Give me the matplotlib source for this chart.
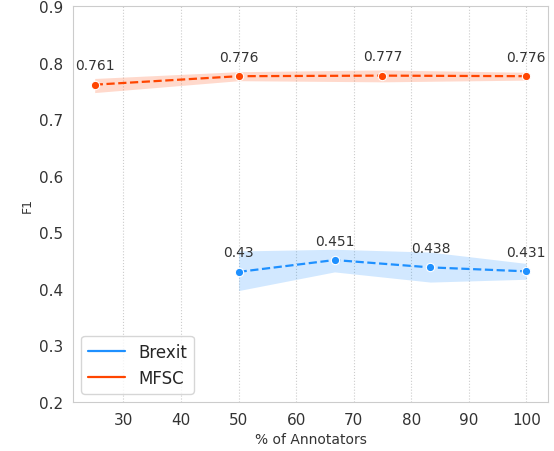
import matplotlib
matplotlib.use("Agg")
import matplotlib.pyplot as plt
import seaborn as sns

sns.set_style("whitegrid")
plt.rcParams['font.family'] = ['DejaVu Sans']

# F1 by share of annotators
brexit_x = [50, 66.67, 83.33, 100]
brexit_f1 = [0.430, 0.451, 0.438, 0.431]
brexit_lo = [0.397, 0.430, 0.412, 0.417]
brexit_hi = [0.467, 0.470, 0.465, 0.445]

mfsc_x = [25, 50, 75, 100]
mfsc_f1 = [0.761, 0.776, 0.777, 0.776]
mfsc_lo = [0.747, 0.768, 0.766, 0.769]
mfsc_hi = [0.772, 0.784, 0.787, 0.783]

brexit_labels = ["0.43", "0.451", "0.438", "0.431"]
mfsc_labels = ["0.761", "0.776", "0.777", "0.776"]

fig = plt.figure(figsize=(5.54, 4.52), dpi=100)
ax = fig.add_axes([0.132, 0.1084, 0.857, 0.876])

series = [
    ("Brexit", brexit_x, brexit_f1, brexit_lo, brexit_hi, brexit_labels, "#1E90FF"),
    ("MFSC", mfsc_x, mfsc_f1, mfsc_lo, mfsc_hi, mfsc_labels, "#FF4500"),
]
for name, xs, ys, lo, hi, labels, color in series:
    ax.fill_between(xs, lo, hi, color=color, alpha=0.2, linewidth=0)
    ax.plot(xs, ys, linestyle="--", color=color, marker="o", markersize=6,
            markeredgecolor="white", markeredgewidth=0.8, linewidth=1.6)
    ax.plot([], [], color=color, linewidth=1.6, label=name)
    for x, y, t in zip(xs, ys, labels):
        ax.annotate(t, (x, y), xytext=(0, 9), textcoords="offset points",
                    ha="center", va="bottom", fontsize=10, color="#333333")

ax.set_ylim(0.2, 0.9)
ax.set_xlim(21.25, 103.75)
ax.set_xticks([30, 40, 50, 60, 70, 80, 90, 100])
ax.set_yticks([0.2, 0.3, 0.4, 0.5, 0.6, 0.7, 0.8, 0.9])
ax.tick_params(axis="both", labelsize=11, colors="#333333")
ax.grid(axis="y", visible=False)
ax.grid(axis="x", linestyle=":", color="#cccccc", linewidth=0.8)
for s in ax.spines.values():
    s.set_color("#cccccc")

ax.set_xlabel("% of Annotators", fontsize=10, color="#333333")
ax.set_ylabel("F1", fontsize=9, color="#333333")

leg = ax.legend(loc="lower left", fontsize=12, handlelength=2.2,
                borderpad=0.4, handletextpad=0.8)

fig.savefig("out.png", dpi=100)
